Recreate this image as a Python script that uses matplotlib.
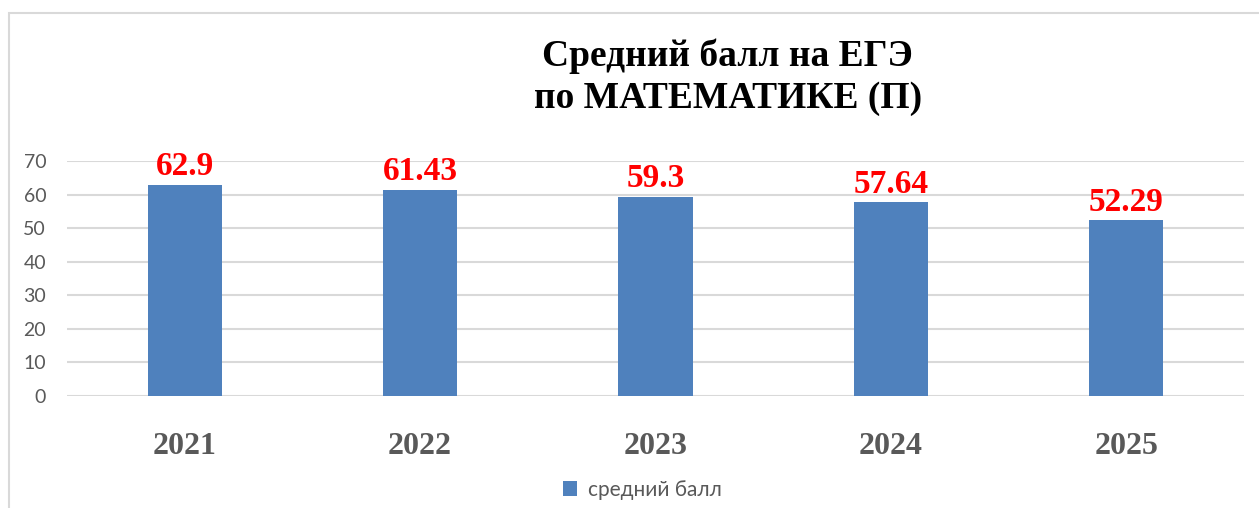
import matplotlib.pyplot as plt
from matplotlib.patches import Rectangle

years = ['2021', '2022', '2023', '2024', '2025']
scores = [62.9, 61.43, 59.3, 57.64, 52.29]
score_labels = ['62.9', '61.43', '59.3', '57.64', '52.29']
yticks = [0, 10, 20, 30, 40, 50, 60, 70]

bar_color = '#4f81bd'
grid_color = '#d9d9d9'
text_gray = '#595959'

fig = plt.figure(figsize=(12.59, 5.08), dpi=100)
ax = fig.add_axes([67 / 1259, 1 - 396 / 508, 1177 / 1259, 235 / 508])

x = range(len(years))
bars = ax.bar(x, scores, width=0.315, color=bar_color, label='средний балл', zorder=3)

for xi, v, lab in zip(x, scores, score_labels):
    ax.annotate(lab, (xi, v), xytext=(0, 2), textcoords='offset points',
                ha='center', va='bottom', color='red', fontsize=24,
                fontweight='bold', family='Liberation Serif')

ax.set_xlim(-0.5, len(years) - 0.5)
ax.set_ylim(0, 70)
ax.set_yticks(yticks)
ax.set_yticklabels([str(t) for t in yticks], family='Lato', fontsize=14, color=text_gray)
ax.set_xticks(list(x))
ax.set_xticklabels(years, family='Liberation Serif', fontweight='bold', fontsize=23, color=text_gray)
ax.tick_params(axis='both', length=0)
ax.tick_params(axis='x', pad=26)
ax.tick_params(axis='y', pad=15)
ax.grid(axis='y', color=grid_color, linewidth=1.5, zorder=0)
for s in ax.spines.values():
    s.set_visible(False)

fig.text(0.578, 1 - 56 / 508, 'Средний балл на ЕГЭ', ha='center', va='center',
         family='Liberation Serif', fontweight='bold', fontsize=27)
fig.text(0.578, 1 - 99 / 508, 'по МАТЕМАТИКЕ (П)', ha='center', va='center',
         family='Liberation Serif', fontweight='bold', fontsize=27)

fig.legend(handles=[bars], loc='center', bbox_to_anchor=(0.51, 1 - 490 / 508),
           frameon=False, prop={'family': 'Lato', 'size': 15}, labelcolor=text_gray,
           handlelength=0.7, handleheight=0.7, handletextpad=0.5)

fig.patches.append(Rectangle((9 / 1259, -0.05), 1.1, 1 - 13 / 508 + 0.05,
                             transform=fig.transFigure, fill=False,
                             edgecolor=grid_color, linewidth=1.5))

fig.savefig('out.png', dpi=100)
